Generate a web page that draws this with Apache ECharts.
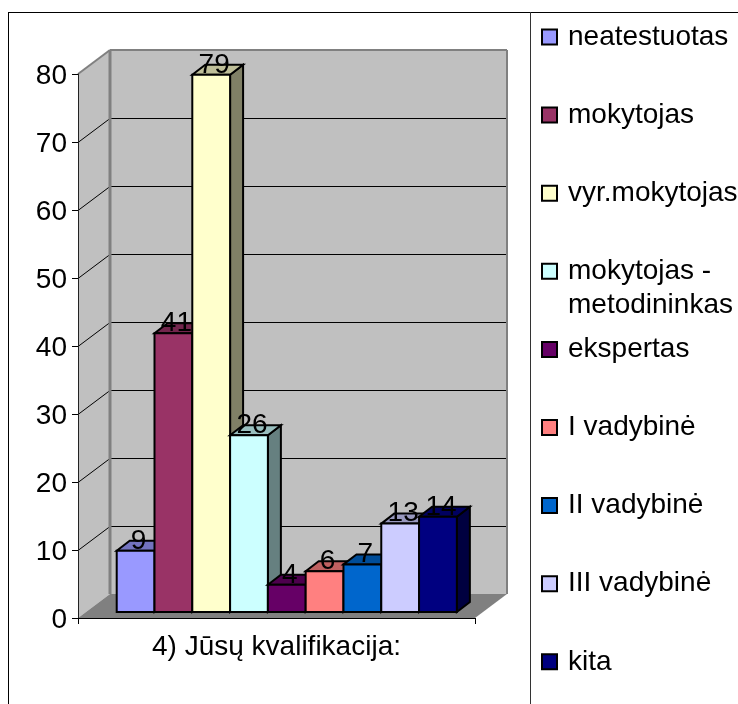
<!DOCTYPE html>
<html><head><meta charset="utf-8">
<style>html,body{margin:0;padding:0;background:#fff}#c{width:738px;height:704px}</style>
<script src="https://cdn.jsdelivr.net/npm/echarts@6/dist/echarts.min.js"></script>
</head><body><div id="c"></div>
<script>
const categories = ['4) Jūsų kvalifikacija:'];
const seriesNames = ['neatestuotas','mokytojas','vyr.mokytojas','mokytojas - metodininkas','ekspertas','I vadybinė','II vadybinė','III vadybinė','kita'];
const seriesValues = [9,41,79,26,4,6,7,13,14];
const seriesColors = ['#9999ff','#993366','#ffffcc','#ccffff','#660066','#ff8080','#0066cc','#ccccff','#000080'];
const tickValues = [0,10,20,30,40,50,60,70,80];

const WALL_DX = 32, WALL_DY = -24;
const BAR_DX = 13, BAR_DY = -10, BAR_LIFT = -6;
const BAR_START = 0.0975, BAR_W = 0.0952;
const FONT = '"Liberation Sans", Arial, sans-serif';
const LEGEND_FIRST = 37, LEGEND_STEP = 78.1, LINE_H = 34, LABEL_DROP = 2;

function shade(hex, f){
  const n = parseInt(hex.slice(1),16);
  const c = [n>>16&255,n>>8&255,n&255].map(v=>Math.round(v*f));
  return 'rgb('+c.join(',')+')';
}
function poly(points, fill, stroke, lw){
  return {type:'polygon',shape:{points},style:{fill,stroke:stroke||null,lineWidth:lw||0}};
}
function seg(x1,y1,x2,y2,stroke,lw){
  return {type:'line',shape:{x1,y1,x2,y2},style:{stroke,lineWidth:lw}};
}
function renderWalls(params, api){
  const p0 = api.coord([0,0]), pTop = api.coord([0,80]);
  const band = api.size([1,0])[0];
  const xL = p0[0]-band/2, xR = p0[0]+band/2, y0 = p0[1], yT = pTop[1];
  const dx = WALL_DX, dy = WALL_DY;
  const kids = [
    poly([[xL,y0],[xL+dx,y0+dy],[xL+dx,yT+dy],[xL,yT]],'#c0c0c0'),
    poly([[xL+dx,y0+dy],[xR+dx,y0+dy],[xR+dx,yT+dy],[xL+dx,yT+dy]],'#c0c0c0'),
    poly([[xL,y0],[xR,y0],[xR+dx,y0+dy],[xL+dx,y0+dy]],'#808080')
  ];
  tickValues.slice(1,-1).forEach(v=>{
    const y = Math.round(api.coord([0,v])[1])+0.5;
    kids.push(seg(xL,y,xL+dx,y+dy,'#000',1));
    kids.push(seg(xL+dx,y+dy,xR+dx,y+dy,'#000',1));
  });
  kids.push(seg(xL,yT,xL+dx,yT+dy,'#808080',2));
  kids.push(seg(xL+dx,yT+dy,xR+dx,yT+dy,'#808080',2));
  kids.push(seg(xL+dx,yT+dy,xL+dx,y0+dy,'#808080',3));
  kids.push(seg(xR+dx,yT+dy,xR+dx,y0+dy,'#808080',2));
  return {type:'group',children:kids};
}
function renderBar(i){
  return function(params, api){
    const v = api.value(1);
    const p0 = api.coord([0,0]), p1 = api.coord([0,v]);
    const band = api.size([1,0])[0];
    const xL = p0[0]-band/2+band*(BAR_START+BAR_W*i), w = band*BAR_W;
    const yB = p0[1]+BAR_LIFT, yT = p1[1]+BAR_LIFT;
    const c = seriesColors[i], s = '#000', lw = 2;
    return {type:'group',children:[
      poly([[xL+w,yB],[xL+w+BAR_DX,yB+BAR_DY],[xL+w+BAR_DX,yT+BAR_DY],[xL+w,yT]],shade(c,0.5),s,lw),
      poly([[xL,yT],[xL+BAR_DX,yT+BAR_DY],[xL+w+BAR_DX,yT+BAR_DY],[xL+w,yT]],shade(c,0.75),s,lw),
      {type:'rect',shape:{x:xL,y:yT,width:w,height:yB-yT},style:{fill:c,stroke:s,lineWidth:lw}},
      {type:'text',z2:100,style:{text:String(v),x:xL+w/2+3,y:yT-10,align:'center',verticalAlign:'middle',
        font:'28px '+FONT,fill:'#000'}}
    ]};
  };
}
const series = [{type:'custom',name:'walls',silent:true,z:1,data:[[0,0]],encode:{x:0,y:1},renderItem:renderWalls,animation:false}];
seriesNames.forEach((name,i)=>{
  series.push({type:'custom',name,z:2,itemStyle:{color:seriesColors[i],borderColor:'#000',borderWidth:2},
    data:[[0,seriesValues[i]]],encode:{x:0,y:1},renderItem:renderBar(i),animation:false});
});
const MULTI = 'mokytojas - metodininkas';
const legends = seriesNames.map((name,i)=>({
  data:[{name,icon:'rect'}],left:541,
  top:LEGEND_FIRST+LEGEND_STEP*i-(name===MULTI?LINE_H*2.5:LINE_H/2),
  padding:0,itemWidth:15,itemHeight:15,itemGap:0,selectedMode:false,
  itemStyle:{borderColor:'#000',borderWidth:2},
  textStyle:{fontFamily:FONT,fontSize:28,color:'#000',padding:[0,0,0,6],lineHeight:LINE_H},
  formatter:n=> n===MULTI ? ' \n \nmokytojas -\nmetodininkas\n ' : n
}));
const chart = echarts.init(document.getElementById('c'),null,{renderer:'canvas',width:738,height:704});
chart.setOption({
  animation:false,
  backgroundColor:'#fff',
  legend:legends,
  grid:{left:78,top:74,width:397,height:544,containLabel:false},
  xAxis:{type:'category',data:categories,
    axisLine:{lineStyle:{color:'#000',width:1}},
    axisTick:{show:true,length:6,lineStyle:{color:'#000'}},
    axisLabel:{fontFamily:FONT,fontSize:28,color:'#000',margin:15},z:5},
  yAxis:{type:'value',min:0,max:80,interval:10,
    axisLine:{show:true,lineStyle:{color:'#222',width:1}},
    axisTick:{show:true,length:6,lineStyle:{color:'#000'}},
    splitLine:{show:false},
    axisLabel:{fontFamily:FONT,fontSize:28,color:'#000',margin:11,
      formatter:v=>'{a|'+v+'}',rich:{a:{fontFamily:FONT,fontSize:28,color:'#000',padding:[LABEL_DROP*2,0,0,0]}}},z:5},
  series,
  graphic:[
    {type:'line',silent:true,shape:{x1:8,y1:12.5,x2:738,y2:12.5},style:{stroke:'#000',lineWidth:1}},
    {type:'line',silent:true,shape:{x1:8.5,y1:12,x2:8.5,y2:704},style:{stroke:'#000',lineWidth:1}},
    {type:'line',silent:true,shape:{x1:530.5,y1:12,x2:530.5,y2:704},style:{stroke:'#333',lineWidth:1}}
  ]
});
</script></body></html>
